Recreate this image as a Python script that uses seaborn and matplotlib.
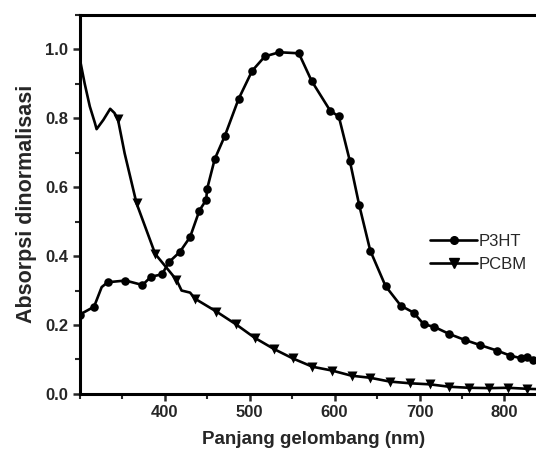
import matplotlib
matplotlib.use("Agg", force=True)
import matplotlib.pyplot as plt
import seaborn as sns
import pandas as pd
from matplotlib.lines import Line2D
from matplotlib.ticker import MultipleLocator, FormatStrFormatter

# P3HT markers (nm, normalised absorbance)
P3HT_NM = [300, 317, 333, 354, 374, 384, 397, 405, 418, 430, 441, 449, 450, 459, 471, 487,
           503, 518, 535, 558, 573, 595, 605, 618, 629, 642, 660, 678, 693, 705, 717, 735,
           753, 771, 791, 807, 819, 826, 834]
P3HT_ABS = [0.23, 0.253, 0.324, 0.329, 0.316, 0.34, 0.347, 0.382, 0.412, 0.455, 0.532, 0.563,
            0.594, 0.681, 0.749, 0.855, 0.937, 0.979, 0.991, 0.988, 0.908, 0.821, 0.805, 0.676,
            0.548, 0.416, 0.313, 0.256, 0.236, 0.202, 0.195, 0.174, 0.157, 0.142, 0.126, 0.111,
            0.104, 0.106, 0.099]

# PCBM markers
PCBM_NM = [345, 367, 389, 414, 436, 461, 484, 506, 529, 551, 574, 597, 620, 642, 665, 689,
           712, 735, 758, 782, 804, 827]
PCBM_ABS = [0.798, 0.553, 0.406, 0.331, 0.276, 0.239, 0.202, 0.163, 0.130, 0.103, 0.079,
            0.068, 0.053, 0.047, 0.036, 0.031, 0.028, 0.021, 0.018, 0.017, 0.018, 0.015]

# extra line points read between markers
P3HT_LINE_NM = [326, 840]
P3HT_LINE_ABS = [0.31, 0.097]
PCBM_LINE_NM = [300, 306, 312, 318, 320, 328, 336, 341, 353, 420, 430, 840]
PCBM_LINE_ABS = [0.975, 0.90, 0.834, 0.786, 0.768, 0.795, 0.827, 0.815, 0.698, 0.30, 0.294, 0.014]


def line_frame(mx, my, lx, ly):
    df = pd.DataFrame({"nm": list(mx) + list(lx), "abs": list(my) + list(ly)})
    return df.sort_values("nm")


sns.set_style("ticks")
plt.rcParams["font.family"] = ["Liberation Sans", "DejaVu Sans"]

fig = plt.figure(figsize=(5.36, 4.57), dpi=100)
ax = fig.add_axes([0.1485, 0.1379, 0.872, 0.830])

lw = 1.9
sns.lineplot(data=line_frame(P3HT_NM, P3HT_ABS, P3HT_LINE_NM, P3HT_LINE_ABS), x="nm", y="abs",
             color="black", lw=lw, ax=ax, sort=False, estimator=None)
sns.lineplot(data=line_frame(PCBM_NM, PCBM_ABS, PCBM_LINE_NM, PCBM_LINE_ABS), x="nm", y="abs",
             color="black", lw=lw, ax=ax, sort=False, estimator=None)
sns.scatterplot(x=P3HT_NM, y=P3HT_ABS, marker="o", s=38, color="black", edgecolor="black",
                linewidth=0, ax=ax, zorder=3)
sns.scatterplot(x=PCBM_NM, y=PCBM_ABS, marker="v", s=52, color="black", edgecolor="black",
                linewidth=0, ax=ax, zorder=3)

ax.set_xlim(300, 850)
ax.set_ylim(0, 1.1)
ax.set_xticks([400, 500, 600, 700, 800])
ax.xaxis.set_minor_locator(MultipleLocator(50))
ax.yaxis.set_major_locator(MultipleLocator(0.2))
ax.yaxis.set_minor_locator(MultipleLocator(0.1))
ax.xaxis.set_major_formatter(FormatStrFormatter("%d"))
ax.yaxis.set_major_formatter(FormatStrFormatter("%.1f"))

for s in ax.spines.values():
    s.set_linewidth(2.2)
    s.set_color("black")
ax.tick_params(which="major", direction="out", length=5, width=1.8, labelsize=12, pad=3)
ax.tick_params(which="minor", direction="out", length=3.5, width=1.5)
for lab in ax.get_xticklabels() + ax.get_yticklabels():
    lab.set_fontweight("bold")

ax.set_xlabel("Panjang gelombang (nm)", fontsize=13.5, fontweight="bold", labelpad=8)
ax.set_ylabel("Absorpsi dinormalisasi", fontsize=15.5, fontweight="bold", labelpad=6)

handles = [Line2D([], [], color="black", lw=lw, marker="o", markersize=5.5),
           Line2D([], [], color="black", lw=lw, marker="v", markersize=6.5)]
ax.legend(handles, ["P3HT", "PCBM"], frameon=False, loc="upper left",
          bbox_to_anchor=(0.803, 0.488), bbox_transform=fig.transFigure,
          handlelength=2.8, handletextpad=0.1, borderaxespad=0, borderpad=0,
          labelspacing=0.5, fontsize=12)

fig.savefig("out.png", dpi=100)
